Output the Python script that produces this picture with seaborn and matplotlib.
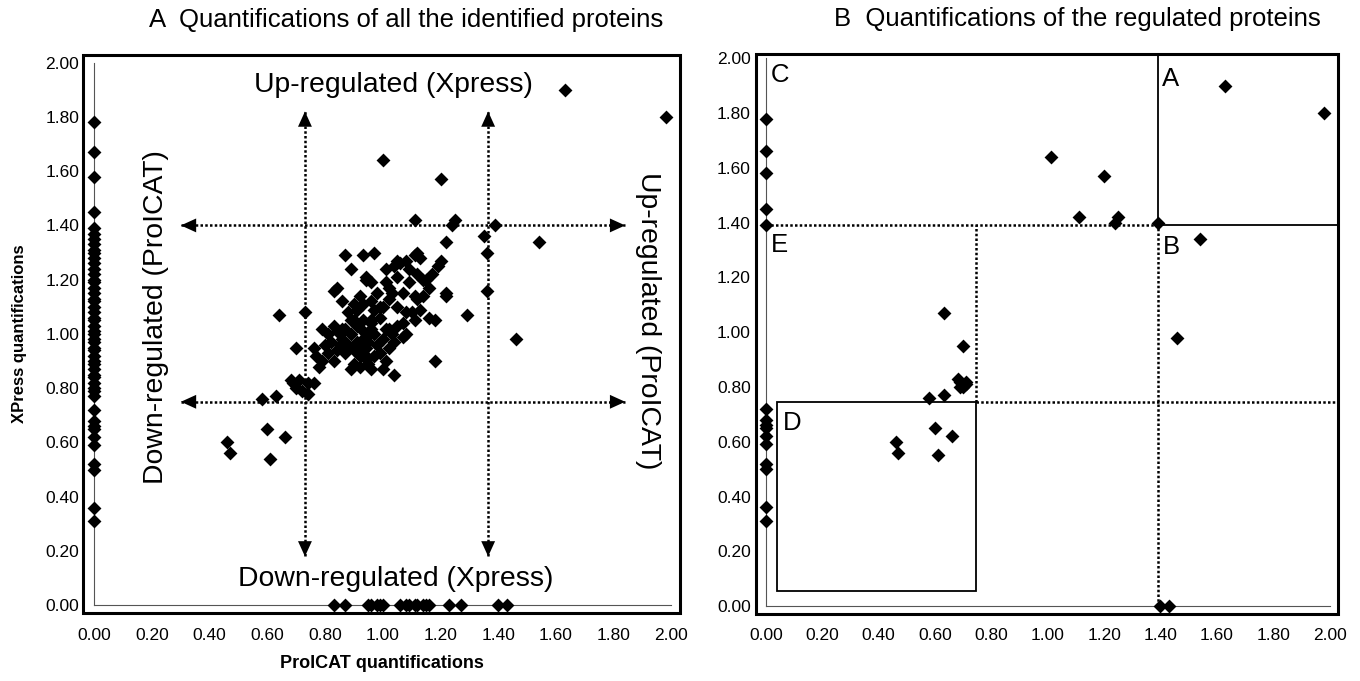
import matplotlib
matplotlib.use("Agg")
import matplotlib.pyplot as plt
import seaborn as sns
import pandas as pd
from matplotlib.patches import Rectangle

# ---- panel A: all identified proteins (ProICAT on x, XPress on y) ----
# proteins with ProICAT = 0
zero_procat_xpress = [1.78, 1.67, 1.58, 1.45, 1.39, 1.37, 1.35, 1.33, 1.31, 1.30, 1.28,
                      1.26, 1.24, 1.22, 1.20, 1.19, 1.17, 1.15, 1.13, 1.12, 1.10, 1.08,
                      1.06, 1.05, 1.03, 1.01, 1.00, 0.98, 0.97, 0.95, 0.94, 0.92, 0.90,
                      0.89, 0.87, 0.85, 0.84, 0.82, 0.80, 0.79, 0.77, 0.72, 0.68, 0.66,
                      0.65, 0.62, 0.59, 0.52, 0.50, 0.36, 0.31]
# proteins with XPress = 0
zero_xpress_procat = [0.83, 0.87, 0.95, 0.96, 0.98, 0.99, 1.00, 1.06, 1.08, 1.09, 1.11,
                      1.12, 1.14, 1.15, 1.16, 1.23, 1.27, 1.40, 1.43]
# proteins quantified by both
procat = [1.63, 1.98, 1.00, 1.20, 1.11, 1.24, 1.25, 1.39, 1.35, 1.54, 1.22, 1.36, 1.36,
          1.46, 1.29, 1.18, 1.22, 0.64, 0.73, 0.70, 0.58, 0.63, 0.60, 0.66, 0.61, 0.46,
          0.47, 0.68, 0.69, 0.71, 0.70, 0.72, 0.74, 0.74, 0.76, 0.76, 0.77, 0.78, 0.84,
          0.87, 0.90,
          0.87, 0.93, 0.97, 0.89, 0.94, 1.12, 1.01, 1.04, 1.06, 1.08, 1.14, 0.84, 0.96,
          1.02, 1.11, 1.13, 1.20, 1.19, 1.05, 1.09, 1.12, 0.94, 1.05, 1.15, 1.17, 0.83,
          1.22, 1.11, 1.12, 1.02, 1.00, 1.05, 1.08, 1.10, 0.92, 0.93, 0.91, 0.97, 0.99,
          0.96, 0.88, 0.89, 0.87, 1.16, 1.02, 1.07, 1.08, 1.11, 0.91, 0.93, 0.96, 0.83,
          0.79, 1.07, 1.18,
          1.02, 1.04, 1.00, 0.96, 0.93, 0.94, 0.93, 0.81, 0.84, 0.86,
          0.86, 0.88, 0.89, 0.91, 0.92, 0.94, 0.95, 0.97, 0.98, 0.99, 0.90, 0.92, 0.87,
          0.85, 0.82, 0.81, 0.83, 0.95, 0.97, 1.00, 1.01, 1.03, 1.04, 0.96, 0.93, 0.90,
          0.95, 0.92, 0.89, 1.01, 1.05, 0.99, 0.96, 1.03, 1.07, 1.01, 1.09, 1.14, 1.16,
          1.13, 0.98, 0.90, 0.86, 0.80, 0.79]
xpress = [1.90, 1.80, 1.64, 1.57, 1.42, 1.40, 1.42, 1.40, 1.36, 1.34, 1.34, 1.30, 1.16,
          0.98, 1.07, 0.90, 1.15, 1.07, 1.08, 0.95, 0.76, 0.77, 0.65, 0.62, 0.54, 0.60,
          0.56, 0.83, 0.82, 0.83, 0.80, 0.79, 0.82, 0.78, 0.82, 0.95, 0.92, 0.88, 0.94,
          0.94, 0.89,
          1.29, 1.29, 1.30, 1.24, 1.21, 1.30, 1.24, 1.25, 1.26, 1.27, 1.20, 1.17, 1.19,
          1.17, 1.29, 1.28, 1.27, 1.25, 1.27, 1.24, 1.22, 1.20, 1.21, 1.20, 1.22, 1.16,
          1.14, 1.14, 1.13, 1.13, 1.10, 1.10, 1.08, 1.08, 1.14, 1.11, 1.09, 1.09, 1.06,
          1.05, 1.08, 1.05, 1.02, 1.06, 1.02, 1.04, 1.00, 1.05, 1.03, 1.01, 1.02, 1.03,
          1.02, 0.99, 1.05,
          0.95, 0.85, 0.87, 0.87, 0.92, 0.95, 0.98, 1.00, 1.01, 1.02,
          0.98, 0.96, 1.00, 0.97, 0.95, 0.99, 0.97, 1.00, 0.96, 0.93, 0.94, 0.92, 0.93,
          0.96, 0.97, 0.93, 0.90, 0.91, 0.92, 0.98, 1.02, 1.00, 0.97, 1.04, 1.05, 1.05,
          0.89, 0.88, 0.87, 0.90, 1.03, 1.10, 1.12, 1.15, 1.15, 1.19, 1.19, 1.14, 1.17,
          1.09, 1.15, 1.11, 1.12, 0.96, 0.90]

# ---- panel B: regulated proteins ----
reg_zero_procat_xpress = [1.78, 1.66, 1.58, 1.45, 1.39, 0.72, 0.68, 0.66, 0.65, 0.62,
                          0.59, 0.52, 0.50, 0.36, 0.31]
reg_zero_xpress_procat = [1.40, 1.43]
reg_procat = [0.63, 0.70, 1.01, 1.20, 1.11, 1.25, 1.24, 1.39, 1.63, 1.98, 1.54, 1.46,
              0.68, 0.69, 0.71, 0.69, 0.70, 0.71, 0.63, 0.58, 0.60, 0.66, 0.61, 0.46, 0.47]
reg_xpress = [1.07, 0.95, 1.64, 1.57, 1.42, 1.42, 1.40, 1.40, 1.90, 1.80, 1.34, 0.98,
              0.83, 0.82, 0.82, 0.80, 0.80, 0.81, 0.77, 0.76, 0.65, 0.62, 0.55, 0.60, 0.56]

ticks = [0.0, 0.2, 0.4, 0.6, 0.8, 1.0, 1.2, 1.4, 1.6, 1.8, 2.0]
tick_labels = ["0.00", "0.20", "0.40", "0.60", "0.80", "1.00", "1.20", "1.40", "1.60",
               "1.80", "2.00"]

# cut-offs used for the arrows (A) and the regions (B)
arrow_x = [0.73, 1.365]
arrow_y = [0.75, 1.40]
arrow_span_x = (0.30, 1.84)
arrow_span_y = (0.18, 1.82)
low_cut = 0.745
high_cut = 1.39
box_d = [0.04, 0.055]  # lower-left corner of region D

df_all = pd.DataFrame({
    "procat": [0.0] * len(zero_procat_xpress) + zero_xpress_procat + procat,
    "xpress": zero_procat_xpress + [0.0] * len(zero_xpress_procat) + xpress,
})
df_reg = pd.DataFrame({
    "procat": [0.0] * len(reg_zero_procat_xpress) + reg_zero_xpress_procat + reg_procat,
    "xpress": reg_zero_procat_xpress + [0.0] * len(reg_zero_xpress_procat) + reg_xpress,
})

sns.set_style("white")
plt.rcParams["font.family"] = ["Liberation Sans", "DejaVu Sans"]
plt.rcParams["text.color"] = "black"
plt.rcParams["axes.labelcolor"] = "black"

fig = plt.figure(figsize=(13.6, 6.81), dpi=100)
ax1 = fig.add_axes([0.0613, 0.0994, 0.4385, 0.8198])
ax2 = fig.add_axes([0.5559, 0.0984, 0.4277, 0.8223])


def style_axes(ax, xlim, ylim):
    ax.set_xlim(*xlim)
    ax.set_ylim(*ylim)
    for s in ["top", "right"]:
        ax.spines[s].set_visible(False)
    for s in ["left", "bottom"]:
        ax.spines[s].set_position(("data", 0))
        ax.spines[s].set_bounds(0, 2)
        ax.spines[s].set_linewidth(0.8)
        ax.spines[s].set_color("#555555")
    ax.set_xticks(ticks)
    ax.set_xticklabels(tick_labels)
    ax.set_yticks(ticks)
    ax.set_yticklabels(tick_labels)
    ax.tick_params(axis="both", direction="out", length=3.5, width=0.8,
                   color="#555555", labelsize=12.5, labelcolor="black")
    ax.tick_params(axis="y", pad=7.5)
    ax.tick_params(axis="x", pad=12.5)
    ax.add_patch(Rectangle((0, 0), 1, 1, transform=ax.transAxes, fill=False,
                           lw=2.2, edgecolor="black", clip_on=False, zorder=5))


dots = (0, (1, 0.9))
head_kw = dict(arrowstyle="-|>,head_length=0.55,head_width=0.25", lw=0, color="black",
               mutation_scale=20, shrinkA=0, shrinkB=0)


def dotted_arrow(ax, start, end):
    # dotted shaft with solid heads at both ends
    ax.plot([start[0], end[0]], [start[1], end[1]], color="black", lw=1.8,
            linestyle=dots)
    dx = (end[0] - start[0]) * 0.03
    dy = (end[1] - start[1]) * 0.03
    ax.annotate("", xy=end, xytext=(end[0] - dx, end[1] - dy), arrowprops=head_kw)
    ax.annotate("", xy=start, xytext=(start[0] + dx, start[1] + dy), arrowprops=head_kw)


# ---- panel A ----
style_axes(ax1, (-0.038, 2.029), (-0.0295, 2.028))
sns.scatterplot(data=df_all, x="procat", y="xpress", marker="D", s=50, color="black",
                linewidth=0, ax=ax1, zorder=4, clip_on=False)
ax1.set_xlabel("ProICAT quantifications", fontsize=13, fontweight="bold")
ax1.set_ylabel("XPress quantifications", fontsize=12, fontweight="bold")
ax1.xaxis.set_label_coords(0.5, -0.075)
ax1.yaxis.set_label_coords(-0.095, 0.5)
ax1.set_title("A  Quantifications of all the identified proteins", fontsize=18.5,
              x=0.542, pad=20, color="black")

for yv in arrow_y:
    dotted_arrow(ax1, (arrow_span_x[0], yv), (arrow_span_x[1], yv))
for xv in arrow_x:
    dotted_arrow(ax1, (xv, arrow_span_y[0]), (xv, arrow_span_y[1]))

ax1.text(1.035, 1.893, "Up-regulated (Xpress)", fontsize=20.4, ha="center", va="baseline")
ax1.text(1.044, 0.072, "Down-regulated (Xpress)", fontsize=20.4, ha="center",
         va="baseline")
ax1.text(0.214, 1.064, "Down-regulated (ProICAT)", fontsize=20.4, rotation=90,
         ha="center", va="center")
ax1.text(1.919, 1.049, "Up-regulated (ProICAT)", fontsize=20.4, rotation=270,
         ha="center", va="center")

# ---- panel B ----
xlim2, ylim2 = (-0.0355, 2.029), (-0.029, 2.016)
style_axes(ax2, xlim2, ylim2)
sns.scatterplot(data=df_reg, x="procat", y="xpress", marker="D", s=50, color="black",
                linewidth=0, ax=ax2, zorder=4, clip_on=False)
ax2.set_xlabel("")
ax2.set_ylabel("")
ax2.set_title("B  Quantifications of the regulated proteins", fontsize=18.5,
              x=0.552, pad=20, color="black")

# region A (solid)
ax2.plot([high_cut, high_cut], [high_cut, ylim2[1]], color="black", lw=1.3)
ax2.plot([high_cut, xlim2[1]], [high_cut, high_cut], color="black", lw=1.3)
# dotted separators
ax2.plot([0, high_cut], [high_cut, high_cut], color="black", lw=1.8, linestyle=dots)
ax2.plot([high_cut, high_cut], [0, high_cut], color="black", lw=1.8, linestyle=dots)
ax2.plot([low_cut, low_cut], [low_cut, high_cut], color="black", lw=1.8, linestyle=dots)
ax2.plot([low_cut, xlim2[1]], [low_cut, low_cut], color="black", lw=1.8, linestyle=dots)
# region D (solid box)
ax2.add_patch(Rectangle((box_d[0], box_d[1]), low_cut - box_d[0], low_cut - box_d[1],
                        fill=False, lw=1.3, edgecolor="black", zorder=3))

for label, lx, ly in [("C", 0.018, 1.983), ("A", 1.406, 1.97), ("E", 0.018, 1.361),
                      ("B", 1.41, 1.355), ("D", 0.061, 0.713)]:
    ax2.text(lx, ly, label, fontsize=18.5, ha="left", va="top")

fig.savefig("out.png", dpi=100)
